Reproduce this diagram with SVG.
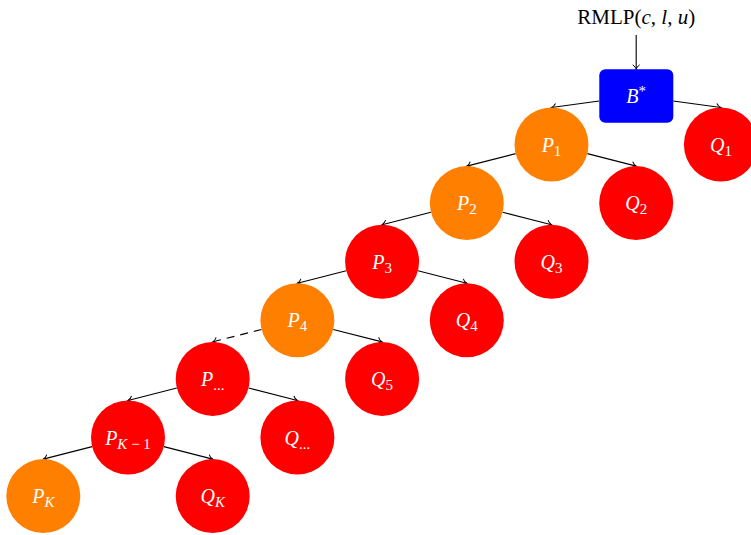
<svg xmlns="http://www.w3.org/2000/svg" width="751" height="535" viewBox="0 0 751 535">
<style>
.lbl{font-family:"Liberation Serif","DejaVu Serif",serif;font-size:20px;fill:#fff;text-anchor:middle}
.it{font-style:italic}
.sub{font-size:15px;font-style:normal}
.subi{font-size:15px;font-style:italic}
.edge{stroke:#000;stroke-width:1.1;fill:none;marker-end:url(#arr)}
.dash{stroke-dasharray:8 6}
.org{fill:#ff8000}
.red{fill:#ff0000}
</style>
<defs>
<marker id="arr" markerUnits="userSpaceOnUse" orient="auto" refX="0" refY="0" markerWidth="10" markerHeight="10" overflow="visible">
<path d="M-4.5,-3.5 C-3,-1.2 -1,-0.3 0,0 C-1,0.3 -3,1.2 -4.5,3.5" fill="none" stroke="#000" stroke-width="1"/>
</marker>
</defs>
<text x="636.2" y="24" font-family="Liberation Serif,DejaVu Serif,serif" font-size="21" text-anchor="middle" fill="#000">RMLP(<tspan font-style="italic">c</tspan>, <tspan font-style="italic">l</tspan>, <tspan font-style="italic">u</tspan>)</text>
<g id="connectors">
<path class="edge" d="M636.2,35 L636.2,69.3"/>
<path class="edge" d="M599.2,101 L551.5,107.5"/>
<path class="edge" d="M673.2,101 L720.9,107.5"/>
<path class="edge" d="M515.65,153.64 L466.8,166.1"/>
<path class="edge" d="M587.35,153.64 L636.2,166.1"/>
<path class="edge" d="M430.95,212.24 L382.1,224.7"/>
<path class="edge" d="M502.65,212.24 L551.5,224.7"/>
<path class="edge" d="M346.25,270.84 L297.4,283.3"/>
<path class="edge" d="M417.95,270.84 L466.8,283.3"/>
<path class="edge dash" d="M261.55,329.44 L212.7,341.9"/>
<path class="edge" d="M333.25,329.44 L382.1,341.9"/>
<path class="edge" d="M176.85,388.04 L128,400.5"/>
<path class="edge" d="M248.55,388.04 L297.4,400.5"/>
<path class="edge" d="M92.15,446.64 L43.3,459.1"/>
<path class="edge" d="M163.85,446.64 L212.7,459.1"/>
</g>
<g id="Bstar"><rect x="599.3" y="69.3" width="74" height="53.4" rx="6" fill="#0000ff"/><text class="lbl it" x="636.2" y="103">B<tspan class="sub" dy="-7">*</tspan></text></g>
<g id="P1"><circle class="org" cx="551.5" cy="144.5" r="37"/><text class="lbl it" x="551.5" y="151.5">P<tspan class="sub" dy="4">1</tspan></text></g>
<g id="Q1"><circle class="red" cx="720.9" cy="144.5" r="37"/><text class="lbl it" x="720.9" y="151.5">Q<tspan class="sub" dy="4">1</tspan></text></g>
<g id="P2"><circle class="org" cx="466.8" cy="203.1" r="37"/><text class="lbl it" x="466.8" y="210.1">P<tspan class="sub" dy="4">2</tspan></text></g>
<g id="Q2"><circle class="red" cx="636.2" cy="203.1" r="37"/><text class="lbl it" x="636.2" y="210.1">Q<tspan class="sub" dy="4">2</tspan></text></g>
<g id="P3"><circle class="red" cx="382.1" cy="261.7" r="37"/><text class="lbl it" x="382.1" y="268.7">P<tspan class="sub" dy="4">3</tspan></text></g>
<g id="Q3"><circle class="red" cx="551.5" cy="261.7" r="37"/><text class="lbl it" x="551.5" y="268.7">Q<tspan class="sub" dy="4">3</tspan></text></g>
<g id="P4"><circle class="org" cx="297.4" cy="320.3" r="37"/><text class="lbl it" x="297.4" y="327.3">P<tspan class="sub" dy="4">4</tspan></text></g>
<g id="Q4"><circle class="red" cx="466.8" cy="320.3" r="37"/><text class="lbl it" x="466.8" y="327.3">Q<tspan class="sub" dy="4">4</tspan></text></g>
<g id="Pdots"><circle class="red" cx="212.7" cy="378.9" r="37"/><text class="lbl it" x="212.7" y="385.9">P<tspan class="sub" dy="4">...</tspan></text></g>
<g id="Q5"><circle class="red" cx="382.1" cy="378.9" r="37"/><text class="lbl it" x="382.1" y="385.9">Q<tspan class="sub" dy="4">5</tspan></text></g>
<g id="PKm1"><circle class="red" cx="128" cy="437.5" r="37"/><text class="lbl it" x="128" y="444.5">P<tspan class="subi" dy="4">K</tspan><tspan class="sub"> − 1</tspan></text></g>
<g id="Qdots"><circle class="red" cx="297.4" cy="437.5" r="37"/><text class="lbl it" x="297.4" y="444.5">Q<tspan class="sub" dy="4">...</tspan></text></g>
<g id="PK"><circle class="org" cx="43.3" cy="496.1" r="37"/><text class="lbl it" x="43.3" y="503.1">P<tspan class="subi" dy="4">K</tspan></text></g>
<g id="QK"><circle class="red" cx="212.7" cy="496.1" r="37"/><text class="lbl it" x="212.7" y="503.1">Q<tspan class="subi" dy="4">K</tspan></text></g>
</svg>
